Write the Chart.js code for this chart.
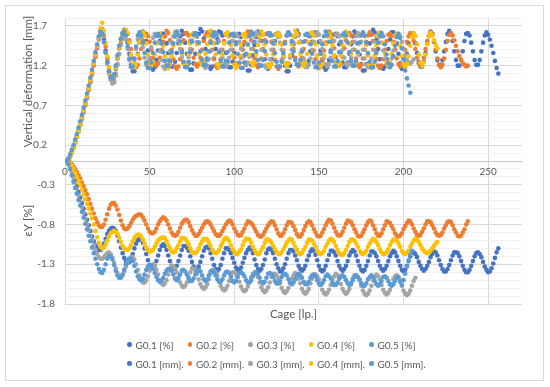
<!DOCTYPE html>
<html>
<head>
<meta charset="utf-8">
<script src="https://cdn.jsdelivr.net/npm/chart.js@4.4.0/dist/chart.umd.min.js"></script>
<style>
  html, body { margin: 0; padding: 0; background: #fff; }
  #wrap { position: relative; width: 550px; height: 387px; }
  #chart { position: absolute; left: 0; top: 0; }
  #frame { position: absolute; left: 5px; top: 5px; width: 537px; height: 374px; border: 1px solid #d9d9d9; pointer-events: none; }
  #legend { position: absolute; left: 127px; top: 335px; display: grid; grid-template-columns: repeat(5, 60.5px); grid-auto-rows: 19px; font: 10px Lato, sans-serif; color: #595959; }
  .item { display: flex; align-items: center; white-space: nowrap; }
  .dot { width: 4.5px; height: 4.5px; border-radius: 50%; margin-right: 4px; flex: none; }
</style>
</head>
<body>
<div id="wrap">
  <canvas id="chart" width="550" height="387"></canvas>
  <div id="frame"></div>
  <div id="legend"></div>
</div>
<script>
// series names and colours (Excel office palette)
const groups = ['G0.1', 'G0.2', 'G0.3', 'G0.4', 'G0.5'];
const colors = ['#4472C4', '#ED7D31', '#A5A5A5', '#FFC000', '#5B9BD5'];
const xTitle = 'Cage [lp.]';
const yTitleTop = 'Vertical deformation [mm]';
const yTitleBottom = 'εY [%]';
const xTicks = [0, 50, 100, 150, 200, 250];

// strain εY [%], one value per cage starting at cage 1
const strainG01 = [
  0, -0.02, -0.06, -0.12, -0.18, -0.25, -0.32, -0.39, -0.46, -0.53,
  -0.6, -0.67, -0.74, -0.81, -0.88, -0.95, -1.01, -1.06, -1.1, -1.12,
  -1.12, -1.09, -1.04, -0.98, -0.92, -0.88, -0.85, -0.84, -0.85, -0.88,
  -0.94, -1.01, -1.09, -1.16, -1.22, -1.26, -1.28, -1.27, -1.23, -1.17,
  -1.1, -1.04, -1.0, -0.98, -0.99, -1.03, -1.1, -1.17, -1.25, -1.31,
  -1.35, -1.35, -1.32, -1.26, -1.19, -1.12, -1.07,
  -1.05, -1.07, -1.12, -1.19, -1.26, -1.32, -1.36, -1.36, -1.32, -1.26, -1.19, -1.12, -1.07,
  -1.07, -1.09, -1.13, -1.2, -1.27, -1.33, -1.37, -1.37, -1.33, -1.27, -1.2, -1.13, -1.09,
  -1.08, -1.1, -1.16, -1.23, -1.31, -1.36, -1.38, -1.36, -1.31, -1.23, -1.16, -1.1,
  -1.1, -1.12, -1.16, -1.22, -1.28, -1.34, -1.37, -1.37, -1.34, -1.28, -1.22, -1.16, -1.12,
  -1.09, -1.11, -1.16, -1.24, -1.31, -1.36, -1.38, -1.36, -1.31, -1.24, -1.16, -1.11,
  -1.1, -1.12, -1.16, -1.23, -1.3, -1.35, -1.39, -1.39, -1.35, -1.3, -1.23, -1.16, -1.12,
  -1.12, -1.14, -1.19, -1.25, -1.32, -1.36, -1.38, -1.36, -1.32, -1.25, -1.19, -1.14,
  -1.11, -1.13, -1.18, -1.25, -1.32, -1.37, -1.39, -1.37, -1.32, -1.25, -1.18, -1.13,
  -1.13, -1.15, -1.19, -1.26, -1.32, -1.36, -1.38, -1.36, -1.32, -1.26, -1.19, -1.15,
  -1.12, -1.14, -1.19, -1.26, -1.32, -1.37, -1.39, -1.37, -1.32, -1.26, -1.19, -1.14,
  -1.14, -1.16, -1.2, -1.26, -1.32, -1.36, -1.38, -1.36, -1.32, -1.26, -1.2, -1.16,
  -1.13, -1.15, -1.2, -1.26, -1.32, -1.37, -1.39, -1.37, -1.32, -1.26, -1.2, -1.15,
  -1.15, -1.17, -1.21, -1.27, -1.32, -1.36, -1.38, -1.36, -1.32, -1.27, -1.21, -1.17,
  -1.14, -1.15, -1.19, -1.25, -1.31, -1.36, -1.39, -1.39, -1.36, -1.31, -1.25, -1.19, -1.15,
  -1.15, -1.16, -1.2, -1.26, -1.32, -1.37, -1.4, -1.4, -1.37, -1.32, -1.26, -1.2, -1.16,
  -1.15, -1.17, -1.21, -1.27, -1.33, -1.37, -1.4, -1.39, -1.35, -1.29, -1.22, -1.15, -1.1
];
const strainG02 = [
  0, -0.01, -0.02, -0.04, -0.07, -0.1, -0.14, -0.18, -0.22, -0.27,
  -0.32, -0.37, -0.42, -0.48, -0.54, -0.6, -0.66, -0.72, -0.77, -0.81,
  -0.83, -0.83, -0.8, -0.74, -0.67, -0.6, -0.55, -0.53, -0.53, -0.56,
  -0.61, -0.68, -0.75, -0.81, -0.85, -0.86, -0.85, -0.82, -0.78, -0.74,
  -0.71, -0.69, -0.68, -0.67, -0.68, -0.71, -0.75, -0.8, -0.85, -0.89,
  -0.91, -0.91, -0.89, -0.85, -0.8, -0.76, -0.73, -0.71, -0.72, -0.75,
  -0.8, -0.85, -0.9, -0.93, -0.94, -0.93, -0.89, -0.84, -0.79, -0.76,
  -0.74, -0.74, -0.77, -0.82, -0.87, -0.91, -0.94, -0.94, -0.92, -0.88,
  -0.84, -0.8, -0.77,
  -0.76, -0.77, -0.8, -0.84, -0.88, -0.92, -0.94, -0.94, -0.92, -0.88, -0.84, -0.8, -0.77,
  -0.75, -0.76, -0.8, -0.85, -0.89, -0.93, -0.94, -0.93, -0.89, -0.85, -0.8, -0.76,
  -0.77, -0.78, -0.81, -0.85, -0.89, -0.93, -0.95, -0.95, -0.93, -0.89, -0.85, -0.81, -0.78,
  -0.76, -0.77, -0.81, -0.86, -0.91, -0.94, -0.94, -0.91, -0.86, -0.81, -0.77,
  -0.77, -0.78, -0.82, -0.87, -0.92, -0.95, -0.95, -0.92, -0.87, -0.82, -0.78,
  -0.76, -0.77, -0.81, -0.86, -0.9, -0.94, -0.95, -0.94, -0.9, -0.86, -0.81, -0.77,
  -0.74, -0.75, -0.79, -0.84, -0.89, -0.93, -0.94, -0.93, -0.89, -0.84, -0.79, -0.75,
  -0.76, -0.77, -0.81, -0.86, -0.9, -0.94, -0.95, -0.94, -0.9, -0.86, -0.81, -0.77,
  -0.75, -0.76, -0.81, -0.86, -0.91, -0.94, -0.94, -0.91, -0.86, -0.81, -0.76,
  -0.77, -0.78, -0.82, -0.86, -0.91, -0.94, -0.95, -0.94, -0.91, -0.86, -0.82, -0.78,
  -0.75, -0.76, -0.8, -0.85, -0.89, -0.93, -0.94, -0.93, -0.89, -0.85, -0.8, -0.76,
  -0.76, -0.77, -0.81, -0.85, -0.9, -0.93, -0.94, -0.93, -0.9, -0.85, -0.81, -0.77,
  -0.76, -0.77, -0.81, -0.86, -0.9, -0.94, -0.95, -0.94, -0.9, -0.86, -0.8, -0.76
];
const strainG03 = [
  0, -0.03, -0.08, -0.14, -0.21, -0.28, -0.35, -0.43, -0.5, -0.58,
  -0.65, -0.73, -0.8, -0.87, -0.94, -1.0, -1.06, -1.12, -1.17, -1.21,
  -1.23, -1.23, -1.21, -1.18, -1.16, -1.15, -1.17, -1.22, -1.28, -1.35,
  -1.41, -1.45, -1.46, -1.44, -1.39, -1.33, -1.27, -1.23, -1.21, -1.21,
  -1.24, -1.3, -1.37, -1.44, -1.5, -1.53, -1.53, -1.5, -1.45, -1.38,
  -1.33,
  -1.3, -1.32, -1.37, -1.43, -1.5, -1.54, -1.56, -1.54, -1.5, -1.43, -1.37, -1.32,
  -1.33, -1.35, -1.4, -1.46, -1.53, -1.57, -1.59, -1.57, -1.53, -1.46, -1.4, -1.35,
  -1.36, -1.38, -1.42, -1.49, -1.55, -1.59, -1.61, -1.59, -1.55, -1.49, -1.42, -1.38,
  -1.38, -1.4, -1.44, -1.51, -1.57, -1.61, -1.63, -1.61, -1.57, -1.51, -1.44, -1.4,
  -1.4, -1.42, -1.46, -1.52, -1.58, -1.62, -1.64, -1.62, -1.58, -1.52, -1.46, -1.42,
  -1.4, -1.42, -1.46, -1.53, -1.59, -1.63, -1.65, -1.63, -1.59, -1.53, -1.46, -1.42,
  -1.42, -1.44, -1.48, -1.54, -1.6, -1.64, -1.66, -1.64, -1.6, -1.54, -1.48, -1.44,
  -1.41, -1.43, -1.48, -1.54, -1.61, -1.65, -1.67, -1.65, -1.61, -1.54, -1.48, -1.43,
  -1.43, -1.45, -1.49, -1.56, -1.62, -1.66, -1.68, -1.66, -1.62, -1.56, -1.49, -1.45,
  -1.42, -1.44, -1.48, -1.55, -1.61, -1.65, -1.67, -1.65, -1.61, -1.55, -1.48, -1.44,
  -1.44, -1.46, -1.5, -1.57, -1.63, -1.67, -1.69, -1.67, -1.63, -1.57, -1.5, -1.46,
  -1.43, -1.45, -1.49, -1.56, -1.62, -1.66, -1.68, -1.66, -1.62, -1.56, -1.49, -1.45,
  -1.44, -1.46, -1.5, -1.57, -1.63, -1.67, -1.69, -1.67, -1.63, -1.57, -1.51, -1.47
];
const strainG04 = [
  0, -0.01, -0.03, -0.06, -0.1, -0.15, -0.2, -0.25, -0.3, -0.36,
  -0.42, -0.48, -0.54, -0.6, -0.66, -0.72, -0.8, -0.88, -0.96, -1.03,
  -1.08, -1.1, -1.09, -1.05, -1.0, -0.95, -0.91, -0.89, -0.88, -0.89,
  -0.92, -0.97, -1.02, -1.07, -1.1, -1.12, -1.12, -1.1, -1.06, -1.01,
  -0.97, -0.94, -0.93, -0.93, -0.95, -0.99, -1.04, -1.09, -1.12, -1.14,
  -1.14, -1.12, -1.08, -1.04, -1.0, -0.98, -0.97,
  -0.96, -0.97, -1.01, -1.06, -1.1, -1.14, -1.15, -1.14, -1.1, -1.06, -1.01, -0.97,
  -0.97, -0.98, -1.01, -1.05, -1.1, -1.14, -1.16, -1.16, -1.14, -1.1, -1.05, -1.01, -0.98,
  -0.98, -0.99, -1.03, -1.07, -1.12, -1.15, -1.16, -1.15, -1.12, -1.07, -1.03, -0.99,
  -0.97, -0.98, -1.01, -1.06, -1.11, -1.14, -1.17, -1.17, -1.14, -1.11, -1.06, -1.01, -0.98,
  -0.98, -0.99, -1.03, -1.08, -1.12, -1.16, -1.17, -1.16, -1.12, -1.08, -1.03, -0.99,
  -0.99, -1.0, -1.03, -1.07, -1.11, -1.15, -1.17, -1.17, -1.15, -1.11, -1.07, -1.03, -1.0,
  -0.98, -0.99, -1.03, -1.08, -1.12, -1.16, -1.17, -1.16, -1.12, -1.08, -1.03, -0.99,
  -0.99, -1.0, -1.04, -1.08, -1.13, -1.16, -1.17, -1.16, -1.13, -1.08, -1.04, -1.0,
  -0.98, -0.99, -1.02, -1.07, -1.12, -1.16, -1.18, -1.18, -1.16, -1.12, -1.07, -1.02, -0.99,
  -0.99, -1.0, -1.04, -1.08, -1.13, -1.16, -1.17, -1.16, -1.13, -1.08, -1.04, -1.0,
  -0.98, -0.99, -1.02, -1.06, -1.11, -1.15, -1.17, -1.17, -1.15, -1.11, -1.06, -1.02, -0.99,
  -0.99, -1.0, -1.04, -1.08, -1.13, -1.16, -1.17, -1.16, -1.13, -1.08, -1.04, -1.0,
  -0.98, -0.99, -1.02, -1.06, -1.1, -1.13, -1.15, -1.16, -1.15, -1.13, -1.1, -1.07, -1.04, -1.02
];
const strainG05 = [
  0, -0.04, -0.1, -0.18, -0.26, -0.34, -0.41, -0.49, -0.56, -0.64,
  -0.71, -0.79, -0.86, -0.94, -1.01, -1.09, -1.16, -1.23, -1.3, -1.36,
  -1.4, -1.41, -1.37, -1.3, -1.23, -1.2, -1.2, -1.24, -1.31, -1.38,
  -1.44, -1.47, -1.47, -1.43, -1.37, -1.3, -1.25, -1.23, -1.23, -1.26,
  -1.32, -1.39, -1.45, -1.49, -1.5, -1.48, -1.43, -1.37, -1.33, -1.31,
  -1.32, -1.36, -1.41, -1.46, -1.5, -1.52, -1.51, -1.47, -1.42, -1.38,
  -1.36,
  -1.36, -1.38, -1.43, -1.48, -1.5, -1.48, -1.43, -1.38,
  -1.37, -1.39, -1.43, -1.48, -1.51, -1.51, -1.48, -1.43, -1.39,
  -1.37, -1.39, -1.44, -1.49, -1.51, -1.49, -1.44, -1.39,
  -1.38, -1.4, -1.44, -1.49, -1.52, -1.52, -1.49, -1.44, -1.4,
  -1.39, -1.41, -1.46, -1.51, -1.53, -1.51, -1.46, -1.41,
  -1.4, -1.42, -1.45, -1.5, -1.53, -1.53, -1.5, -1.45, -1.42,
  -1.4, -1.42, -1.47, -1.52, -1.54, -1.52, -1.47, -1.42,
  -1.41, -1.43, -1.46, -1.51, -1.54, -1.54, -1.51, -1.46, -1.43,
  -1.42, -1.44, -1.49, -1.53, -1.55, -1.53, -1.49, -1.44,
  -1.42, -1.44, -1.47, -1.52, -1.55, -1.55, -1.52, -1.47, -1.44,
  -1.43, -1.45, -1.5, -1.54, -1.56, -1.54, -1.5, -1.45,
  -1.43, -1.45, -1.48, -1.53, -1.56, -1.56, -1.53, -1.48, -1.45,
  -1.44, -1.46, -1.5, -1.54, -1.56, -1.54, -1.5, -1.46,
  -1.44, -1.46, -1.49, -1.54, -1.57, -1.57, -1.54, -1.49, -1.46,
  -1.44, -1.46, -1.51, -1.55, -1.57, -1.55, -1.51, -1.46,
  -1.45, -1.47, -1.51, -1.55, -1.57, -1.55, -1.51, -1.47,
  -1.46, -1.52, -1.56, -1.5, -1.42, -1.33, -1.25, -1.18, -1.13
];

// vertical deformation [mm], one value per cage starting at cage 1
const deformG01 = [
  0, 0.02, 0.06, 0.12, 0.18, 0.25, 0.32, 0.39, 0.47, 0.55,
  0.63, 0.72, 0.81, 0.91, 1.01, 1.11, 1.22, 1.33, 1.44, 1.55,
  1.63, 1.62, 1.53, 1.39, 1.25, 1.13, 1.05, 1.02, 1.06, 1.16,
  1.29, 1.42, 1.53, 1.61,
  1.65, 1.61, 1.49, 1.35, 1.21, 1.13, 1.13, 1.21, 1.35, 1.49, 1.61,
  1.63, 1.6, 1.51, 1.39, 1.27, 1.18, 1.15, 1.18, 1.27, 1.39, 1.51, 1.6,
  1.6, 1.57, 1.48, 1.36, 1.25, 1.19, 1.19, 1.25, 1.36, 1.48, 1.57,
  1.64, 1.6, 1.49, 1.35, 1.23, 1.15, 1.15, 1.23, 1.35, 1.49, 1.6,
  1.66, 1.63, 1.54, 1.41, 1.29, 1.19, 1.16, 1.19, 1.29, 1.41, 1.54, 1.63,
  1.62, 1.58, 1.49, 1.36, 1.25, 1.18, 1.18, 1.25, 1.36, 1.49, 1.58,
  1.6, 1.56, 1.46, 1.33, 1.21, 1.14, 1.14, 1.21, 1.33, 1.46, 1.56,
  1.63, 1.6, 1.51, 1.4, 1.28, 1.19, 1.16, 1.19, 1.28, 1.4, 1.51, 1.6,
  1.61, 1.57, 1.47, 1.33, 1.2, 1.13, 1.13, 1.2, 1.33, 1.47, 1.57,
  1.64, 1.6, 1.5, 1.38, 1.26, 1.19, 1.19, 1.26, 1.38, 1.5, 1.6,
  1.62, 1.59, 1.5, 1.39, 1.27, 1.18, 1.15, 1.18, 1.27, 1.39, 1.5, 1.59,
  1.6, 1.57, 1.47, 1.35, 1.24, 1.18, 1.18, 1.24, 1.35, 1.47, 1.57,
  1.63, 1.59, 1.48, 1.34, 1.22, 1.14, 1.14, 1.22, 1.34, 1.48, 1.59,
  1.65, 1.62, 1.53, 1.41, 1.28, 1.19, 1.16, 1.19, 1.28, 1.41, 1.53, 1.62,
  1.62, 1.58, 1.48, 1.35, 1.23, 1.16, 1.16, 1.23, 1.35, 1.48, 1.58,
  1.6, 1.57, 1.48, 1.36, 1.25, 1.19, 1.19, 1.25, 1.36, 1.48, 1.57,
  1.63, 1.6, 1.5, 1.38, 1.27, 1.21, 1.21, 1.27, 1.38, 1.5, 1.6,
  1.64, 1.6, 1.51, 1.38, 1.27, 1.2, 1.2, 1.27, 1.38, 1.51, 1.6,
  1.61, 1.58, 1.49, 1.38, 1.27, 1.21, 1.21, 1.27, 1.38, 1.49, 1.58,
  1.62, 1.59, 1.53, 1.45, 1.36, 1.26, 1.17, 1.1
];
const deformG02 = [
  0, 0.01, 0.05, 0.1, 0.16, 0.23, 0.3, 0.37, 0.45, 0.53,
  0.61, 0.7, 0.79, 0.89, 0.99, 1.09, 1.2, 1.31, 1.42, 1.53,
  1.62, 1.66, 1.58, 1.44, 1.29, 1.15, 1.04, 0.98, 0.99, 1.08,
  1.21, 1.35, 1.48, 1.57, 1.62,
  1.63, 1.6, 1.52, 1.41, 1.29, 1.21, 1.18, 1.21, 1.29, 1.41, 1.52, 1.6,
  1.6, 1.57, 1.5, 1.4, 1.3, 1.23, 1.2, 1.23, 1.3, 1.4, 1.5, 1.57,
  1.64, 1.61, 1.52, 1.4, 1.28, 1.19, 1.16, 1.19, 1.28, 1.4, 1.52, 1.61,
  1.61, 1.58, 1.51, 1.4, 1.3, 1.22, 1.19, 1.22, 1.3, 1.4, 1.51, 1.58,
  1.62, 1.59, 1.51, 1.4, 1.28, 1.2, 1.17, 1.2, 1.28, 1.4, 1.51, 1.59,
  1.6, 1.57, 1.5, 1.4, 1.3, 1.23, 1.2, 1.23, 1.3, 1.4, 1.5, 1.57,
  1.63, 1.6, 1.52, 1.41, 1.29, 1.21, 1.18, 1.21, 1.29, 1.41, 1.52, 1.6,
  1.61, 1.58, 1.5, 1.39, 1.27, 1.19, 1.16, 1.19, 1.27, 1.39, 1.5, 1.58,
  1.62, 1.59, 1.51, 1.41, 1.3, 1.22, 1.19, 1.22, 1.3, 1.41, 1.51, 1.59,
  1.6, 1.57, 1.49, 1.39, 1.28, 1.2, 1.17, 1.2, 1.28, 1.39, 1.49, 1.57,
  1.63, 1.6, 1.52, 1.42, 1.31, 1.23, 1.2, 1.23, 1.31, 1.42, 1.52, 1.6,
  1.61, 1.58, 1.5, 1.4, 1.29, 1.21, 1.18, 1.21, 1.29, 1.4, 1.5, 1.58,
  1.62, 1.59, 1.51, 1.4, 1.28, 1.2, 1.17, 1.2, 1.28, 1.4, 1.51, 1.59,
  1.6, 1.57, 1.5, 1.4, 1.29, 1.22, 1.19, 1.22, 1.29, 1.4, 1.5, 1.57,
  1.61, 1.58, 1.51, 1.41, 1.3, 1.23, 1.2, 1.23, 1.3, 1.41, 1.51, 1.58,
  1.62, 1.59, 1.51, 1.4, 1.29, 1.21, 1.18, 1.21, 1.29, 1.4, 1.51, 1.59,
  1.61, 1.58, 1.52, 1.45, 1.38, 1.32, 1.27, 1.23, 1.21, 1.19, 1.2
];
const deformG03 = [
  0, 0.02, 0.06, 0.11, 0.17, 0.24, 0.31, 0.38, 0.46, 0.54,
  0.63, 0.72, 0.81, 0.91, 1.01, 1.11, 1.22, 1.33, 1.44, 1.54,
  1.6, 1.58, 1.49, 1.36, 1.22, 1.1, 1.02, 0.98, 1.01, 1.1,
  1.22, 1.35, 1.46, 1.54,
  1.58, 1.53, 1.41, 1.27, 1.18, 1.18, 1.27, 1.41, 1.53,
  1.6, 1.55, 1.43, 1.3, 1.21, 1.21, 1.3, 1.43, 1.55,
  1.6, 1.57, 1.49, 1.38, 1.27, 1.19, 1.16, 1.19, 1.27, 1.38, 1.49, 1.57,
  1.62, 1.59, 1.52, 1.41, 1.31, 1.23, 1.2, 1.23, 1.31, 1.41, 1.52, 1.59,
  1.59, 1.56, 1.49, 1.38, 1.28, 1.2, 1.17, 1.2, 1.28, 1.38, 1.49, 1.56,
  1.61, 1.58, 1.51, 1.4, 1.3, 1.22, 1.19, 1.22, 1.3, 1.4, 1.51, 1.58,
  1.6, 1.57, 1.5, 1.41, 1.31, 1.24, 1.21, 1.24, 1.31, 1.41, 1.5, 1.57,
  1.62, 1.59, 1.51, 1.4, 1.28, 1.2, 1.17, 1.2, 1.28, 1.4, 1.51, 1.59,
  1.59, 1.56, 1.49, 1.4, 1.3, 1.23, 1.2, 1.23, 1.3, 1.4, 1.49, 1.56,
  1.61, 1.58, 1.5, 1.4, 1.29, 1.21, 1.18, 1.21, 1.29, 1.4, 1.5, 1.58,
  1.62, 1.59, 1.51, 1.41, 1.3, 1.22, 1.19, 1.22, 1.3, 1.41, 1.51, 1.59,
  1.6, 1.57, 1.5, 1.4, 1.3, 1.23, 1.2, 1.23, 1.3, 1.4, 1.5, 1.57,
  1.61, 1.58, 1.5, 1.4, 1.29, 1.21, 1.18, 1.21, 1.29, 1.4, 1.5, 1.58,
  1.59, 1.56, 1.49, 1.39, 1.29, 1.22, 1.19, 1.22, 1.29, 1.39, 1.49, 1.56,
  1.6, 1.57, 1.5, 1.41, 1.33, 1.27, 1.24, 1.23, 1.25, 1.28
];
const deformG04 = [
  0, 0.02, 0.05, 0.1, 0.16, 0.23, 0.3, 0.38, 0.46, 0.55,
  0.64, 0.73, 0.82, 0.92, 1.02, 1.12, 1.23, 1.34, 1.45, 1.56,
  1.67, 1.74, 1.64, 1.48, 1.32, 1.18, 1.09, 1.05, 1.08, 1.17,
  1.3, 1.43, 1.53, 1.6, 1.64,
  1.65, 1.61, 1.49, 1.34, 1.22, 1.18, 1.22, 1.34, 1.49, 1.61,
  1.62, 1.58, 1.48, 1.34, 1.24, 1.2, 1.24, 1.34, 1.48, 1.58,
  1.6, 1.56, 1.45, 1.32, 1.21, 1.17, 1.21, 1.32, 1.45, 1.56,
  1.63, 1.59, 1.48, 1.34, 1.23, 1.19, 1.23, 1.34, 1.48, 1.59,
  1.61, 1.57, 1.47, 1.35, 1.25, 1.21, 1.25, 1.35, 1.47, 1.57,
  1.64, 1.6, 1.48, 1.34, 1.22, 1.18, 1.22, 1.34, 1.48, 1.6,
  1.62, 1.58, 1.46, 1.33, 1.21, 1.17, 1.21, 1.33, 1.46, 1.58,
  1.6, 1.56, 1.46, 1.34, 1.24, 1.2, 1.24, 1.34, 1.46, 1.56,
  1.63, 1.59, 1.47, 1.34, 1.22, 1.18, 1.22, 1.34, 1.47, 1.59,
  1.61, 1.57, 1.47, 1.33, 1.23, 1.19, 1.23, 1.33, 1.47, 1.57,
  1.64, 1.6, 1.49, 1.35, 1.24, 1.2, 1.24, 1.35, 1.49, 1.6,
  1.62, 1.58, 1.47, 1.33, 1.22, 1.18, 1.22, 1.33, 1.47, 1.58,
  1.6, 1.56, 1.46, 1.33, 1.23, 1.19, 1.23, 1.33, 1.46, 1.56,
  1.63, 1.59, 1.48, 1.35, 1.24, 1.2, 1.24, 1.35, 1.48, 1.59,
  1.61, 1.57, 1.46, 1.33, 1.21, 1.17, 1.21, 1.33, 1.46, 1.57,
  1.62, 1.58, 1.48, 1.35, 1.24, 1.2, 1.24, 1.35, 1.48, 1.58,
  1.6, 1.56, 1.45, 1.32, 1.22, 1.18, 1.22, 1.32, 1.45, 1.56,
  1.61, 1.57, 1.47, 1.34, 1.24, 1.2, 1.24, 1.34, 1.47, 1.57,
  1.61, 1.58, 1.52, 1.46, 1.42
];
const deformG05 = [
  0, 0.03, 0.08, 0.14, 0.2, 0.27, 0.34, 0.42, 0.5, 0.58,
  0.67, 0.76, 0.85, 0.95, 1.05, 1.15, 1.26, 1.37, 1.47, 1.57,
  1.63, 1.6, 1.5, 1.37, 1.24, 1.13, 1.06, 1.04, 1.09, 1.2,
  1.33, 1.45, 1.54, 1.6,
  1.63, 1.58, 1.44, 1.29, 1.19, 1.19, 1.29, 1.44, 1.58,
  1.62, 1.58, 1.49, 1.36, 1.24, 1.17, 1.17, 1.24, 1.36, 1.49, 1.58,
  1.6, 1.57, 1.48, 1.37, 1.26, 1.2, 1.2, 1.26, 1.37, 1.48, 1.57,
  1.63, 1.59, 1.5, 1.37, 1.25, 1.18, 1.18, 1.25, 1.37, 1.5, 1.59,
  1.61, 1.58, 1.49, 1.38, 1.27, 1.21, 1.21, 1.27, 1.38, 1.49, 1.58,
  1.62, 1.59, 1.49, 1.37, 1.26, 1.19, 1.19, 1.26, 1.37, 1.49, 1.59,
  1.6, 1.57, 1.47, 1.35, 1.24, 1.17, 1.17, 1.24, 1.35, 1.47, 1.57,
  1.63, 1.6, 1.5, 1.38, 1.27, 1.2, 1.2, 1.27, 1.38, 1.5, 1.6,
  1.61, 1.58, 1.48, 1.36, 1.25, 1.19, 1.19, 1.25, 1.36, 1.48, 1.58,
  1.62, 1.59, 1.5, 1.38, 1.27, 1.21, 1.21, 1.27, 1.38, 1.5, 1.59,
  1.6, 1.57, 1.47, 1.35, 1.24, 1.18, 1.18, 1.24, 1.35, 1.47, 1.57,
  1.63, 1.59, 1.5, 1.37, 1.26, 1.19, 1.19, 1.26, 1.37, 1.5, 1.59,
  1.61, 1.58, 1.49, 1.37, 1.26, 1.2, 1.2, 1.26, 1.37, 1.49, 1.58,
  1.62, 1.58, 1.49, 1.36, 1.25, 1.18, 1.18, 1.25, 1.36, 1.49, 1.58,
  1.61, 1.57, 1.47, 1.34, 1.23, 1.18, 1.21, 1.32, 1.45, 1.56, 1.6,
  1.55, 1.42, 1.28, 1.14, 1.04, 0.95, 0.86
];

const strainSeries = [strainG01, strainG02, strainG03, strainG04, strainG05];
const deformSeries = [deformG01, deformG02, deformG03, deformG04, deformG05];

// cage number = position in the list (first value is cage 1)
const toPoints = values => values.map((v, i) => ({ x: i + 1, y: v }));

const datasets = [];
strainSeries.forEach((s, i) => datasets.push({ label: groups[i] + ' [%]', data: toPoints(s), color: colors[i] }));
deformSeries.forEach((s, i) => datasets.push({ label: groups[i] + ' [mm].', data: toPoints(s), color: colors[i] }));
datasets.forEach((d, i) => {
  d.backgroundColor = d.color;
  d.borderColor = d.color;
  d.pointRadius = 2.3;
  d.pointHoverRadius = 2.3;
  d.pointBorderWidth = 0;
  d.order = datasets.length - i; // later series drawn on top, as in Excel
});

// legend (two rows of five)
const legendEl = document.getElementById('legend');
datasets.forEach(d => {
  const item = document.createElement('div');
  item.className = 'item';
  const dot = document.createElement('span');
  dot.className = 'dot';
  dot.style.background = d.color;
  item.appendChild(dot);
  item.appendChild(document.createTextNode(d.label));
  legendEl.appendChild(item);
});

const textColor = '#595959';
Chart.defaults.font.family = 'Lato, sans-serif';
Chart.defaults.color = textColor;

const majorStep = k => k % 5 === 0;

const yTitles = {
  id: 'yTitles',
  afterDraw(chart) {
    const { ctx } = chart;
    const y = chart.scales.y;
    ctx.save();
    ctx.fillStyle = textColor;
    ctx.font = '11.5px Lato, sans-serif';
    ctx.textAlign = 'center';
    ctx.textBaseline = 'middle';
    [[yTitleTop, 1.0], [yTitleBottom, -0.75]].forEach(([text, v]) => {
      ctx.save();
      ctx.translate(28, y.getPixelForValue(v));
      ctx.rotate(-Math.PI / 2);
      ctx.fillText(text, 0, 0);
      ctx.restore();
    });
    ctx.restore();
  }
};

new Chart(document.getElementById('chart'), {
  type: 'scatter',
  data: { datasets },
  options: {
    responsive: false,
    animation: false,
    events: [],
    layout: { padding: { left: 0, right: 28, top: 18, bottom: 63 } },
    plugins: { legend: { display: false }, tooltip: { enabled: false } },
    scales: {
      x: {
        type: 'linear',
        min: 0,
        max: 270,
        position: { y: 0 },
        afterBuildTicks: s => { s.ticks = xTicks.map(v => ({ value: v })); },
        afterFit: s => { s.height = 0; },
        ticks: { color: textColor, font: { size: 10 }, padding: 5, maxRotation: 0 },
        grid: { color: '#d9d9d9', drawTicks: false },
        border: { color: '#c8c8c8' }
      },
      xTitle: {
        type: 'linear',
        position: 'bottom',
        min: 0,
        max: 270,
        ticks: { display: false },
        grid: { display: false },
        border: { display: false },
        title: { display: true, text: xTitle, color: textColor, font: { size: 11.5 }, padding: { top: 0, bottom: 3 } },
        afterFit: s => { s.height = 20; }
      },
      y: {
        min: -1.8,
        max: 1.8,
        afterFit: s => { s.width = 65; },
        ticks: {
          stepSize: 0.1,
          autoSkip: false,
          color: textColor,
          font: { size: 10 },
          padding: 10,
          callback: v => {
            const k = Math.round((v + 1.8) * 10);
            if (!majorStep(k)) return '';
            const s = (Math.round(v * 10) / 10).toFixed(1);
            return v > 0 ? s + '\u2007\u2008' : s;
          }
        },
        grid: {
          drawTicks: false,
          color: c => majorStep(Math.round((c.tick.value + 1.8) * 10)) ? '#d9d9d9' : '#f0f0f0'
        },
        border: { display: false }
      }
    }
  },
  plugins: [yTitles]
});
</script>
</body>
</html>
